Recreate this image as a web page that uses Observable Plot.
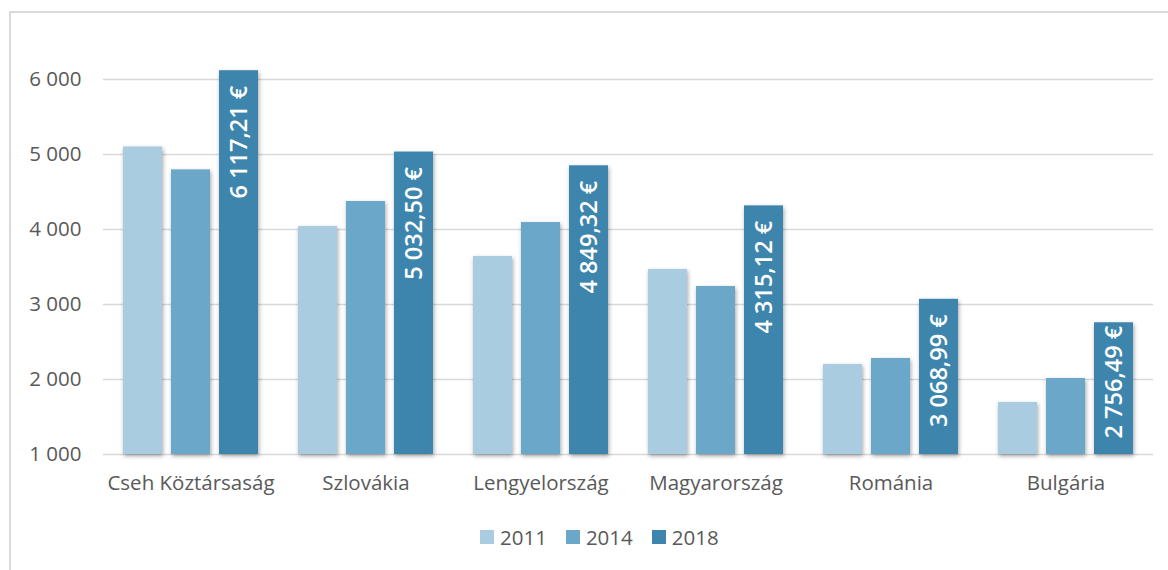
<!DOCTYPE html>
<html>
<head>
<meta charset="utf-8">
<script src="https://cdn.jsdelivr.net/npm/d3@7"></script>
<script src="https://cdn.jsdelivr.net/npm/@observablehq/plot@0.6"></script>
<style>
  html, body { margin: 0; padding: 0; background: #fff; width: 1168px; height: 570px; overflow: hidden; }
  #frame { position: absolute; left: 9px; top: 11px; width: 1200px; height: 600px; border-top: 2px solid #d9d9d9; border-left: 2px solid #d9d9d9; }
  #chart { position: absolute; left: 0; top: 0; }
  #chart g[aria-label="bar"] rect { filter: drop-shadow(1px 2px 2px rgba(0,0,0,0.35)); }
  #legend { position: absolute; left: 480px; top: 523px; display: flex; align-items: center; font-family: "Open Sans", sans-serif; font-size: 20.5px; color: #595959; }
  #legend .item { display: flex; align-items: center; margin-right: 19px; }
  #legend .sw { width: 14px; height: 14px; margin-right: 6px; }
</style>
</head>
<body>
<div id="frame"></div>
<div id="chart"></div>
<div id="legend"></div>
<script>
const countries = ["Cseh Köztársaság", "Szlovákia", "Lengyelország", "Magyarország", "Románia", "Bulgária"];
const years = ["2011", "2014", "2018"];
const colors = ["#a9cce0", "#6aa7c9", "#3e85ad"];
const values2011 = [5100, 4040, 3640, 3467, 2200, 1693];
const values2014 = [4795, 4373, 4093, 3240, 2280, 2013];
const values2018 = [6117.21, 5032.50, 4849.32, 4315.12, 3068.99, 2756.49];
const labels2018 = ["6 117,21 €", "5 032,50 €", "4 849,32 €", "4 315,12 €", "3 068,99 €", "2 756,49 €"];
const yTicks = [1000, 2000, 3000, 4000, 5000, 6000];
const yTickLabels = ["1 000", "2 000", "3 000", "4 000", "5 000", "6 000"];
const yMin = 1000, yMax = 6400;

const series = [values2011, values2014, values2018];
const data = [];
countries.forEach((c, i) => {
  years.forEach((y, j) => {
    data.push({country: c, year: y, value: series[j][i], label: j === 2 ? labels2018[i] : ""});
  });
});

// labels that would not fit below the usual inset are pushed up to stay inside the bar
const labelled = data.filter(d => d.year === "2018");
const fitting = labelled.filter(d => d.value >= 2900);
const tight = labelled.filter(d => d.value < 2900);

const labelStyle = {
  fx: "country", x: "year", y: "value", text: "label",
  rotate: -90, textAnchor: "end",
  fill: "white", fontWeight: 600, fontSize: 23.5, fontFamily: "'Open Sans', sans-serif"
};

const chart = Plot.plot({
  width: 1168,
  height: 500,
  marginLeft: 102,
  marginRight: 14,
  marginTop: 49,
  marginBottom: 46,
  style: {fontFamily: "'Open Sans', sans-serif", fontSize: "20.5px", color: "#595959", background: "transparent", overflow: "visible"},
  fx: {domain: countries, padding: 0, axis: "bottom", tickSize: 0, tickPadding: 21, label: null},
  x: {domain: years, axis: null, paddingInner: 0.19, paddingOuter: 0.39},
  y: {domain: [yMin, yMax], ticks: yTicks, tickFormat: d => yTickLabels[yTicks.indexOf(d)], tickSize: 0, tickPadding: 22, label: null},
  color: {domain: years, range: colors},
  marks: [
    Plot.ruleY(yTicks, {stroke: "#d9d9d9", strokeWidth: 1.5}),
    Plot.barY(data, {fx: "country", x: "year", y1: () => yMin, y2: "value", fill: "year"}),
    Plot.text(fitting, {...labelStyle, dy: 15}),
    Plot.text(tight, {...labelStyle, dy: 3})
  ]
});
document.getElementById("chart").appendChild(chart);

const legend = document.getElementById("legend");
years.forEach((y, i) => {
  const item = document.createElement("div");
  item.className = "item";
  const sw = document.createElement("div");
  sw.className = "sw";
  sw.style.background = colors[i];
  const t = document.createElement("span");
  t.textContent = y;
  item.appendChild(sw);
  item.appendChild(t);
  legend.appendChild(item);
});
</script>
</body>
</html>
